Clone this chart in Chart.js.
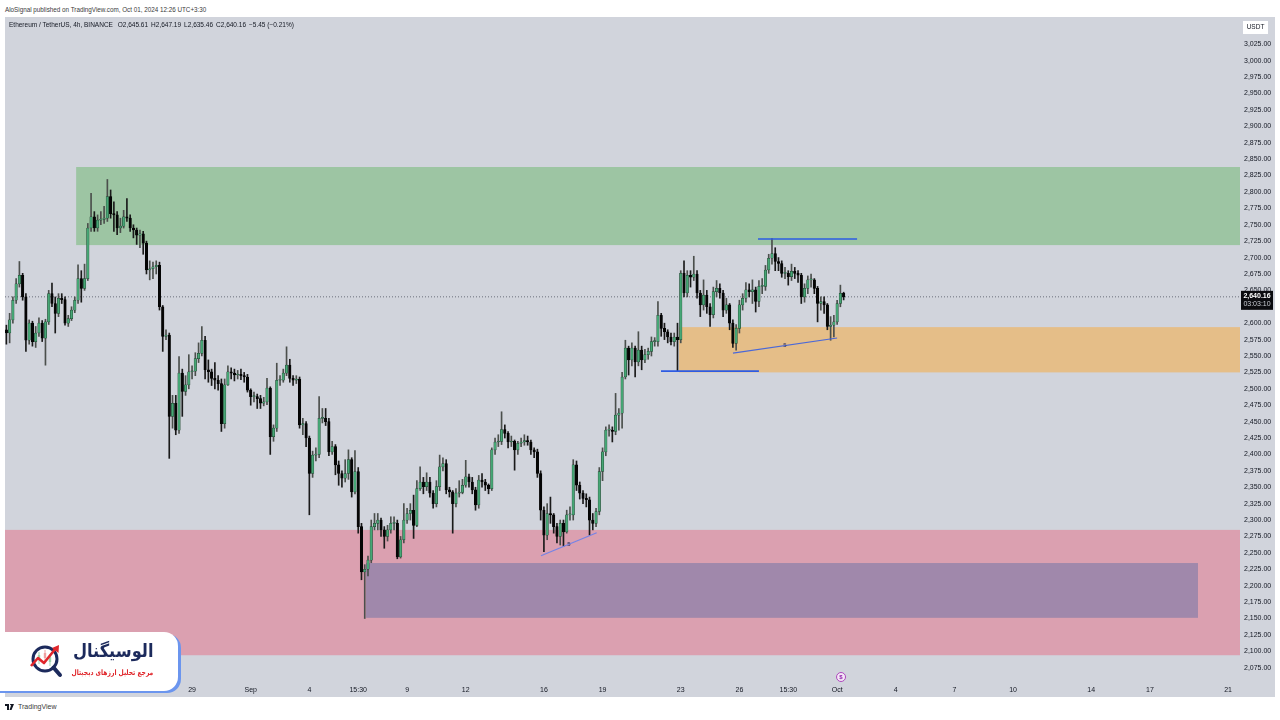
<!DOCTYPE html>
<html>
<head>
<meta charset="utf-8">
<script src="https://cdn.jsdelivr.net/npm/chart.js@4.4.1/dist/chart.umd.min.js"></script>
<style>
html,body{margin:0;padding:0;background:#ffffff;width:1280px;height:720px;overflow:hidden;font-family:"Liberation Sans",Arial,sans-serif;}
#pub{position:absolute;left:5px;top:6px;font-size:6.3px;color:#3a3a3a;white-space:nowrap;}
#wrap{position:absolute;left:5px;top:17px;width:1270px;height:680px;background:#d1d4dc;}
#legend{position:absolute;left:9px;top:21px;font-size:6.5px;color:#131722;white-space:nowrap;z-index:3;}
#legend span{margin-left:3px;}
#foot{position:absolute;left:5px;top:703px;font-size:7px;color:#3a3a3a;display:flex;align-items:center;gap:3px;}
#logo{position:absolute;left:-20px;top:632px;width:198px;height:59px;background:#ffffff;border-radius:14px;box-shadow:3px 2px 0 #6b95ee;z-index:4;}
#logo svg{position:absolute;left:49px;top:12px;}
#brand{position:absolute;right:25px;top:8px;font-family:"DejaVu Sans",sans-serif;font-weight:bold;font-size:18px;color:#1c2a5c;direction:rtl;white-space:nowrap;transform:scaleX(0.9);transform-origin:right center;}
#tag{position:absolute;right:25px;top:36px;font-family:"DejaVu Sans",sans-serif;font-weight:bold;font-size:7.5px;color:#e0262b;direction:rtl;white-space:nowrap;transform:scaleX(0.8);transform-origin:right center;}
canvas{position:absolute;left:0;top:0;}
</style>
</head>
<body>
<div id="pub">AloSignal published on TradingView.com, Oct 01, 2024 12:26 UTC+3:30</div>
<div id="wrap"><canvas id="c" width="1270" height="680"></canvas></div>
<div id="legend">Ethereum / TetherUS, 4h, BINANCE <span>O2,645.61</span><span>H2,647.19</span><span>L2,635.46</span><span>C2,640.16</span><span>−5.45 (−0.21%)</span></div>
<div id="logo">
  <svg width="40" height="40" viewBox="0 0 40 40">
    <circle cx="16" cy="15" r="12" fill="#ffffff" stroke="#1c2a5c" stroke-width="3"/>
    <line x1="24.5" y1="23.5" x2="31" y2="31" stroke="#1c2a5c" stroke-width="4" stroke-linecap="round"/>
    <line x1="10" y1="8" x2="10" y2="20" stroke="#9fd3b0" stroke-width="1"/>
    <rect x="8.8" y="11" width="2.4" height="5" fill="#9fd3b0"/>
    <line x1="16" y1="6" x2="16" y2="18" stroke="#f0a0a0" stroke-width="1"/>
    <rect x="14.8" y="9" width="2.4" height="5" fill="#f0a0a0"/>
    <line x1="21" y1="10" x2="21" y2="22" stroke="#9fd3b0" stroke-width="1"/>
    <rect x="19.8" y="13" width="2.4" height="5" fill="#9fd3b0"/>
    <polyline points="2,22 9,14 15,19 27,4" fill="none" stroke="#e0262b" stroke-width="2.6" stroke-linejoin="round"/>
    <polygon points="30,1 29.5,9 23,4" fill="#e0262b"/>
  </svg>
  <div id="brand">الوسیگنال</div>
  <div id="tag">مرجع تحلیل ارزهای دیجیتال</div>
</div>
<div id="foot">
  <svg width="10" height="6" viewBox="0 0 20 12"><path d="M0 0h8v12H4V4H0z M10 0a2 2 0 1 1 0 0.01z M13 0h5l-5 12H9z" fill="#131722"/></svg>
  <span>TradingView</span>
</div>
<script>
// ---------------- data ----------------
// candle times: day number (Aug 1 = 0), 4h candles
const firstCandleDay = 18.5;
const candleStepDays = 1 / 6;
const opens = [2590,2585,2605,2635,2660,2673,2640,2574,2600,2572,2585,2600,2577,2602,2645,2630,2615,2638,2636,2600,2607,2620,2635,2668,2653,2668,2745,2762,2745,2757,2758,2760,2793,2767,2765,2745,2748,2762,2760,2745,2742,2734,2736,2722,2681,2683,2686,2688,2625,2580,
2582,2458,2478,2437,2524,2496,2506,2526,2527,2546,2554,2574,2529,2526,2516,2513,2508,2447,2506,2526,2524,2521,2522,2520,2518,2498,2488,2488,2485,2478,2480,2501,2427,2440,2513,2513,2524,2536,2516,2513,2515,2445,2447,2425,2371,2399,2400,2455,2455,2450,2404,2412,2384,2371,2364,2371,2392,2343,2374,2290,2221,
2225,2239,2290,2295,2300,2285,2275,2285,2295,2295,2244,2270,2300,2310,2315,2292,2348,2358,2351,2358,2341,2325,2351,2381,2386,2346,2343,2325,2341,2342,2353,2366,2358,2346,2323,2361,2358,2353,
2348,2407,2419,2420,2438,2432,2419,2420,2407,2417,2419,2421,2419,2407,2404,2371,2315,2277,2310,2308,2290,2275,2295,2282,2308,2308,2384,2353,2341,2333,2331,2300,2295,2313,2374,2404,2437,2437,2435,2460,2463,
2518,2562,2544,2562,2541,2559,2544,2552,2557,2572,2572,2612,2592,2587,2579,2572,2579,2575,2676,2646,2673,2670,2675,2646,2628,2643,2625,2613,2648,2653,2646,2620,2628,2600,2569,2592,2628,2638,2651,2648,2651,2633,2656,2656,2681,2699,2706,2694,2691,2676,2676,2671,2679,2676,2673,2640,2653,2666,2666,2653,2630,2633,2628,2595,2597,2602,2630,2645.61];
const highs = [2597,2615,2640,2668,2694,2676,2645,2605,2603,2595,2608,2604,2606,2650,2661,2640,2645,2645,2640,2612,2625,2640,2689,2680,2690,2752,2798,2770,2765,2770,2778,2819,2803,2785,2770,2760,2772,2790,2765,2750,2745,2742,2740,2725,2695,2693,2695,2693,2627,2590,
2585,2490,2490,2549,2530,2520,2552,2535,2555,2570,2595,2580,2544,2530,2540,2520,2515,2515,2535,2532,2530,2528,2530,2525,2522,2500,2495,2492,2490,2487,2516,2503,2445,2539,2520,2530,2564,2545,2520,2520,2518,2455,2450,2428,2405,2410,2488,2470,2470,2455,2420,2415,2390,2375,2392,2407,2395,2406,2380,2295,2232,
2245,2300,2310,2310,2303,2290,2292,2305,2305,2300,2275,2325,2318,2325,2338,2360,2381,2365,2372,2365,2345,2360,2399,2395,2392,2350,2345,2348,2360,2362,2391,2370,2365,2350,2368,2371,2362,2355,
2410,2425,2430,2465,2445,2435,2428,2422,2420,2425,2430,2428,2422,2410,2408,2375,2320,2325,2335,2310,2295,2300,2300,2315,2320,2392,2390,2358,2345,2340,2335,2310,2318,2380,2410,2442,2445,2442,2493,2470,2525,
2574,2565,2570,2565,2587,2565,2560,2562,2579,2578,2633,2615,2600,2590,2585,2585,2600,2680,2695,2680,2680,2702,2680,2650,2666,2650,2630,2655,2665,2660,2650,2638,2630,2605,2598,2635,2645,2662,2660,2666,2655,2665,2668,2688,2705,2729,2715,2700,2695,2685,2680,2690,2685,2680,2676,2660,2672,2675,2668,2656,2640,2640,2630,2610,2612,2635,2658,2647.19];
const lows = [2568,2570,2600,2630,2655,2635,2557,2568,2565,2563,2580,2572,2536,2598,2625,2585,2610,2630,2597,2595,2604,2616,2630,2632,2650,2665,2740,2740,2740,2750,2752,2755,2760,2740,2735,2738,2745,2755,2740,2730,2720,2715,2705,2675,2666,2668,2675,2620,2557,2575,
2394,2440,2430,2432,2458,2490,2500,2515,2520,2540,2550,2515,2510,2505,2500,2498,2435,2440,2505,2515,2512,2515,2514,2510,2495,2475,2480,2470,2470,2474,2476,2400,2420,2435,2505,2510,2520,2510,2505,2508,2440,2430,2412,2308,2365,2390,2395,2448,2444,2398,2400,2369,2353,2350,2358,2362,2335,2340,2280,2209,2150,
2215,2235,2285,2285,2275,2257,2268,2280,2285,2241,2242,2265,2295,2300,2272,2290,2345,2340,2345,2335,2318,2320,2345,2375,2340,2335,2280,2320,2335,2340,2350,2350,2340,2315,2318,2350,2345,2340,
2345,2400,2412,2415,2425,2410,2412,2376,2400,2412,2414,2414,2400,2395,2365,2300,2252,2270,2295,2280,2265,2262,2260,2280,2300,2300,2345,2332,2325,2320,2277,2285,2290,2308,2360,2398,2428,2419,2430,2437,2440,
2515,2521,2535,2518,2535,2529,2540,2545,2550,2565,2565,2580,2575,2570,2567,2565,2527,2570,2640,2640,2655,2665,2638,2610,2620,2615,2595,2608,2640,2638,2610,2615,2590,2563,2559,2585,2620,2632,2640,2630,2617,2625,2645,2650,2676,2690,2680,2680,2670,2668,2658,2665,2668,2662,2630,2632,2645,2655,2645,2602,2620,2615,2590,2574,2579,2598,2625,2635.46];
const closes = [2585,2605,2635,2660,2673,2640,2574,2600,2572,2585,2600,2577,2602,2645,2630,2615,2638,2636,2600,2607,2620,2635,2668,2653,2668,2745,2762,2745,2757,2758,2760,2793,2767,2765,2745,2748,2762,2760,2745,2742,2734,2736,2722,2681,2683,2686,2688,2625,2580,2582,
2458,2478,2437,2524,2496,2506,2526,2527,2546,2554,2574,2529,2526,2516,2513,2508,2447,2506,2526,2524,2521,2522,2520,2518,2498,2488,2488,2485,2478,2480,2501,2427,2440,2513,2513,2524,2536,2516,2513,2515,2445,2447,2425,2371,2399,2400,2455,2455,2450,2404,2412,2384,2371,2364,2371,2392,2343,2374,2290,2221,2225,
2239,2290,2295,2300,2285,2275,2285,2295,2295,2244,2270,2300,2310,2315,2292,2348,2358,2351,2358,2341,2325,2351,2381,2386,2346,2343,2325,2341,2342,2353,2366,2358,2346,2323,2361,2358,2353,2348,
2407,2419,2420,2438,2432,2419,2420,2407,2417,2419,2421,2419,2407,2404,2371,2315,2277,2310,2308,2290,2275,2295,2282,2308,2308,2384,2353,2341,2333,2331,2300,2295,2313,2374,2404,2437,2437,2435,2460,2463,2518,
2562,2544,2562,2541,2559,2544,2552,2557,2572,2572,2612,2592,2587,2579,2572,2579,2575,2676,2646,2673,2670,2675,2646,2628,2643,2625,2613,2648,2653,2646,2620,2628,2600,2569,2592,2628,2638,2651,2648,2651,2633,2656,2656,2681,2699,2706,2694,2691,2676,2676,2671,2679,2676,2673,2640,2653,2666,2666,2653,2630,2633,2628,2595,2597,2602,2630,2645.61,2640.16];
const lastPrice = 2640.16;
const countdown = '03:03:10';

// x-axis tick labels (day number, Aug 1 = 0)
const tickDays   = [22, 25, 28, 31, 34, 36.5, 39, 42, 46, 49, 53, 56, 58.5, 61, 64, 67, 70, 74, 77, 81];
const tickLabels = ['23','26','29','Sep','4','15:30','9','12','16','19','23','26','15:30','Oct','4','7','10','14','17','21'];
// y-axis tick labels
const priceTicks = [2075,2100,2125,2150,2175,2200,2225,2250,2275,2300,2325,2350,2375,2400,2425,2450,2475,2500,2525,2550,2575,2600,2625,2650,2675,2700,2725,2750,2775,2800,2825,2850,2875,2900,2925,2950,2975,3000,3025];

// zones (time span in days, price span)
const zoneNames = ['supply', 'demand', 'support', 'inner'];
const zoneFrom  = [22.07, 52.91, 18.43, 36.90];
const zoneTo    = [81.61, 81.61, 81.61, 79.46];
const zoneLow   = [2719, 2525, 2094, 2151];
const zoneHigh  = [2838, 2594, 2285, 2234.5];

// drawn trend lines
const trendNames = ['top', 'base', 'rise1', 'rise2'];
const trendX1 = [56.95, 51.99, 55.67, 45.85];
const trendX2 = [62.02, 57.00, 61.00, 48.70];
const trendY1 = [2728.3, 2527, 2554.5, 2245.6];
const trendY2 = [2728.3, 2527, 2577.4, 2280.7];
const trendText = ['', '', '5', '5'];

const xMin = 18.43, xMax = 81.61, yMin = 2053.2, yMax = 3066.6;

// ---------------- styles ----------------
const zoneColors = ['rgba(157,197,163,1)', 'rgba(229,190,136,1)', 'rgba(219,160,176,1)', 'rgba(160,136,171,1)'];
const trendColors = ['#2d5be3', '#2d5be3', '#4a68d8', '#7483e6'];
const upFill = '#46a675', upEdge = '#1f3d2c', downFill = '#050505';

const times = closes.map((_, i) => firstCandleDay + i * candleStepDays);
const isUp = closes.map((c, i) => c >= opens[i]);

const datasets = [];
trendNames.forEach((n, k) => {
  datasets.push({
    type: 'line', label: n,
    data: [{x: trendX1[k], y: trendY1[k]}, {x: trendX2[k], y: trendY2[k]}],
    borderColor: trendColors[k], borderWidth: k < 2 ? 1.6 : 1.2,
    pointRadius: 0, order: -1
  });
});
datasets.push({
  type: 'line', label: 'last',
  data: [{x: xMin, y: lastPrice}, {x: xMax, y: lastPrice}],
  borderColor: '#6b6f7b', borderWidth: 1, borderDash: [1, 2], pointRadius: 0, order: 3
});
datasets.push({
  type: 'bar', label: 'wicks',
  data: times.map((x, i) => ({x, y: [lows[i], highs[i]]})),
  backgroundColor: times.map((_, i) => isUp[i] ? '#4b4f4c' : '#1a1a1a'),
  barThickness: 1, grouped: false, borderWidth: 0, order: 2
});
datasets.push({
  type: 'bar', label: 'bodies',
  data: times.map((x, i) => ({x, y: [opens[i], closes[i]]})),
  backgroundColor: times.map((_, i) => isUp[i] ? upFill : downFill),
  borderColor: times.map((_, i) => isUp[i] ? upEdge : downFill),
  borderWidth: 0.5, borderSkipped: false,
  barThickness: 2.5, minBarLength: 1, grouped: false, order: 1
});

const zonePlugin = {
  id: 'zones',
  beforeDatasetsDraw(chart) {
    const {ctx, chartArea: a, scales: {x, y}} = chart;
    ctx.save();
    ctx.beginPath(); ctx.rect(a.left, a.top, a.right - a.left, a.bottom - a.top); ctx.clip();
    zoneNames.forEach((n, k) => {
      const x1 = x.getPixelForValue(zoneFrom[k]), x2 = x.getPixelForValue(zoneTo[k]);
      const y1 = y.getPixelForValue(zoneHigh[k]), y2 = y.getPixelForValue(zoneLow[k]);
      ctx.fillStyle = zoneColors[k];
      ctx.fillRect(x1, y1, x2 - x1, y2 - y1);
    });
    ctx.restore();
  },
  afterDraw(chart) {
    const {ctx, chartArea: a, scales: {x, y}} = chart;
    ctx.save();
    ctx.font = '6px "Liberation Sans", Arial';
    ctx.fillStyle = '#2b2f5e'; ctx.textAlign = 'center'; ctx.textBaseline = 'middle';
    trendNames.forEach((n, k) => {
      if (!trendText[k]) return;
      const px = x.getPixelForValue((trendX1[k] + trendX2[k]) / 2);
      const py = y.getPixelForValue((trendY1[k] + trendY2[k]) / 2);
      ctx.fillText(trendText[k], px, py);
    });
    ctx.fillStyle = '#ffffff';
    ctx.fillRect(a.right + 3, 4, 25, 13);
    ctx.fillStyle = '#131722'; ctx.font = '6.5px "Liberation Sans", Arial';
    ctx.fillText('USDT', a.right + 15.5, 10.5);
    const py = y.getPixelForValue(lastPrice);
    ctx.fillStyle = '#0b0b0f';
    ctx.fillRect(a.right + 1, py - 6, 32, 19);
    ctx.fillStyle = '#ffffff'; ctx.font = 'bold 7px "Liberation Sans", Arial';
    ctx.fillText(lastPrice.toLocaleString('en-US', {minimumFractionDigits: 2}), a.right + 17, py - 0.5);
    ctx.fillStyle = '#c9ccd4'; ctx.font = '7px "Liberation Sans", Arial';
    ctx.fillText(countdown, a.right + 17, py + 7);
    const ex = x.getPixelForValue(61.2), ey = a.bottom - 5;
    ctx.beginPath(); ctx.arc(ex, ey, 4.5, 0, Math.PI * 2);
    ctx.fillStyle = '#f5e6f7'; ctx.fill();
    ctx.strokeStyle = '#ab47bc'; ctx.lineWidth = 1; ctx.stroke();
    ctx.fillStyle = '#8e24aa'; ctx.font = 'bold 6px "Liberation Sans", Arial';
    ctx.fillText('$', ex, ey + 0.3);
    ctx.restore();
  }
};

new Chart(document.getElementById('c'), {
  type: 'bar',
  data: {datasets},
  options: {
    responsive: false, animation: false, devicePixelRatio: 1,
    layout: {padding: 0},
    plugins: {legend: {display: false}, tooltip: {enabled: false}},
    scales: {
      x: {
        type: 'linear', min: xMin, max: xMax, offset: false,
        grid: {display: false, drawTicks: false}, border: {display: false},
        afterBuildTicks: s => { s.ticks = tickDays.map(v => ({value: v})); },
        afterFit: s => { s.height = 15; s.paddingLeft = 0; s.paddingRight = 0; },
        ticks: {
          autoSkip: false, maxRotation: 0, padding: 4,
          color: '#131722', font: {size: 7, family: '"Liberation Sans", Arial'},
          callback: v => tickLabels[tickDays.indexOf(v)]
        }
      },
      y: {
        type: 'linear', position: 'right', min: yMin, max: yMax,
        grid: {display: false, drawTicks: false}, border: {display: false},
        afterBuildTicks: s => { s.ticks = priceTicks.map(v => ({value: v})); },
        afterFit: s => { s.width = 35; s.paddingTop = 0; s.paddingBottom = 0; },
        ticks: {
          autoSkip: false, padding: 4,
          color: '#131722', font: {size: 7, family: '"Liberation Sans", Arial'},
          callback: v => v.toLocaleString('en-US', {minimumFractionDigits: 2, maximumFractionDigits: 2})
        }
      }
    }
  },
  plugins: [zonePlugin]
});
</script>
</body>
</html>
